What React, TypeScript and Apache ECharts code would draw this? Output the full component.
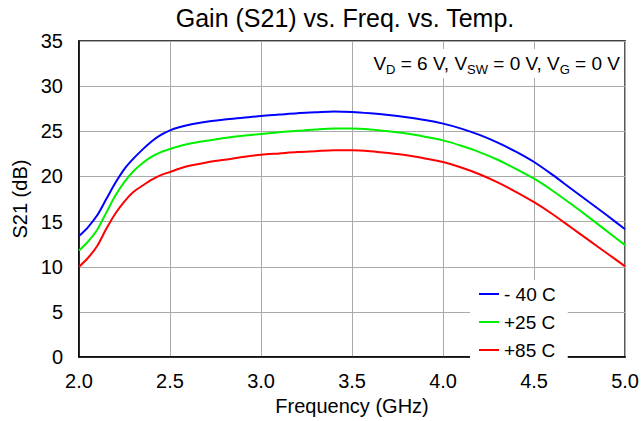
import React, { useEffect, useRef } from "react";
import * as echarts from "echarts";

const freqGHz = [
  2.0, 2.05, 2.1, 2.15, 2.2, 2.25, 2.3, 2.35, 2.4, 2.45, 2.5, 2.55, 2.6, 2.65, 2.7,
  2.8, 2.9, 3.0, 3.1, 3.2, 3.3, 3.4, 3.5, 3.6, 3.7, 3.8, 3.9, 4.0, 4.1, 4.2, 4.3, 4.4, 4.5, 4.6, 4.7, 4.8, 4.9, 5.0,
];
const gainM40 = [
  13.4, 14.4, 15.7, 17.5, 19.3, 20.85, 22.0, 23.0, 23.9, 24.6, 25.1, 25.45, 25.7, 25.9, 26.05,
  26.3, 26.5, 26.7, 26.85, 27.0, 27.1, 27.2, 27.15, 27.0, 26.8, 26.55, 26.25, 25.85, 25.3, 24.6, 23.75, 22.75, 21.6, 20.2, 18.7, 17.2, 15.7, 14.15,
];
const gainP25 = [
  11.8, 12.8, 14.1, 16.0, 17.9, 19.4, 20.6, 21.5, 22.2, 22.7, 23.05, 23.35, 23.6, 23.8, 23.95,
  24.25, 24.5, 24.7, 24.9, 25.05, 25.2, 25.3, 25.3, 25.2, 25.0, 24.75, 24.4, 24.0, 23.4, 22.7, 21.85, 20.85, 19.75, 18.45, 17.0, 15.5, 13.95, 12.4,
];
const gainP85 = [
  10.0, 11.0, 12.3, 14.2, 15.9, 17.25, 18.3, 19.0, 19.65, 20.15, 20.5, 20.85, 21.15, 21.35, 21.55,
  21.85, 22.15, 22.4, 22.55, 22.7, 22.8, 22.9, 22.9, 22.8, 22.6, 22.35, 22.0, 21.6, 21.0, 20.25, 19.35, 18.3, 17.15, 15.85, 14.4, 12.95, 11.5, 10.05,
];

const seriesNames = ["- 40 C", "+25 C", "+85 C"];
const seriesColors = ["#0000ff", "#00f000", "#ff0000"];
const titleText = "Gain (S21) vs. Freq. vs. Temp.";
const xName = "Frequency (GHz)";
const yName = "S21 (dB)";

const FONT = "'Liberation Sans', Arial, Helvetica, sans-serif";

export default function App() {
  const ref = useRef<HTMLDivElement>(null);
  useEffect(() => {
    if (!ref.current) return;
    const chart = echarts.init(ref.current, undefined, { renderer: "svg" });
    const pair = (ys: number[]) => freqGHz.map((f, i) => [f, ys[i]]);
    const all = [gainM40, gainP25, gainP85];
    chart.setOption({
      animation: false,
      backgroundColor: "#fff",
      textStyle: { fontFamily: FONT, color: "#000" },
      title: {
        text: titleText,
        left: 345,
        textAlign: "center",
        top: 5,
        padding: 0,
        textStyle: { fontFamily: FONT, fontSize: 25, fontWeight: "normal", color: "#000" },
      },
      grid: {
        left: 79,
        top: 41,
        width: 548,
        height: 324,
        show: true,
        borderColor: "#000",
        borderWidth: 1.5,
        backgroundColor: "transparent",
        containLabel: false,
      },
      legend: {
        orient: "vertical",
        left: 470,
        top: 280,
        backgroundColor: "#fff",
        padding: [4, 12, 2, 9],
        itemGap: 8,
        itemWidth: 20,
        itemHeight: 2,
        icon: "rect",
        data: seriesNames,
        textStyle: { fontFamily: FONT, fontSize: 19, color: "#000", lineHeight: 20 },
      },
      xAxis: {
        type: "value",
        min: 2,
        max: 5,
        interval: 0.5,
        name: xName,
        nameLocation: "middle",
        nameGap: 38,
        nameTextStyle: { fontFamily: FONT, fontSize: 20, color: "#000" },
        axisLine: { show: true, lineStyle: { color: "#000", width: 1.5 } },
        axisTick: { show: false },
        axisLabel: {
          fontFamily: FONT,
          fontSize: 20,
          color: "#000",
          margin: 14,
          formatter: (v: number) => v.toFixed(1),
        },
        splitLine: { show: true, lineStyle: { color: "#aaaaaa", width: 1 } },
      },
      yAxis: {
        type: "value",
        min: 0,
        max: 35,
        interval: 5,
        name: yName,
        nameLocation: "middle",
        nameGap: 49,
        nameTextStyle: { fontFamily: FONT, fontSize: 20, color: "#000" },
        axisLine: { show: true, lineStyle: { color: "#000", width: 1.5 } },
        axisTick: { show: false },
        axisLabel: { fontFamily: FONT, fontSize: 20, color: "#000", margin: 16 },
        splitLine: { show: true, lineStyle: { color: "#aaaaaa", width: 1 } },
      },
      graphic: [
        {
          type: "text",
          right: 19,
          top: 49,
          z: 100,
          style: {
            text: "{a|V}{s|D}{a| = 6 V, V}{s|SW}{a| = 0 V, V}{s|G}{a| = 0 V}",
            backgroundColor: "#fff",
            padding: [2, 3, 2, 6],
            rich: {
              a: { fontFamily: FONT, fontSize: 19, fill: "#000", lineHeight: 25, verticalAlign: "middle" },
              s: { fontFamily: FONT, fontSize: 13, fill: "#000", lineHeight: 25, verticalAlign: "bottom" },
            },
          },
        },
      ],
      series: all.map((ys, i) => ({
        name: seriesNames[i],
        type: "line",
        data: pair(ys),
        smooth: 0.3,
        showSymbol: false,
        symbol: "none",
        lineStyle: { color: seriesColors[i], width: 2 },
        itemStyle: { color: seriesColors[i] },
        z: 3,
      })),
    });
    return () => chart.dispose();
  }, []);
  return <div ref={ref} style={{ width: 642, height: 421, position: "absolute", left: 0, top: 0 }} />;
}
